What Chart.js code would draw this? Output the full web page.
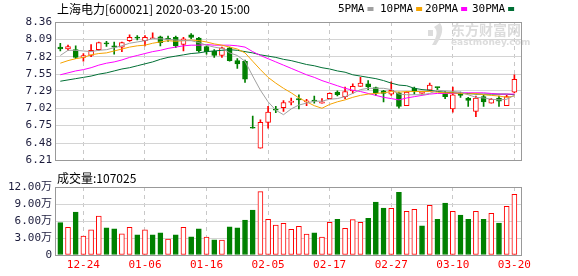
<!DOCTYPE html>
<html>
<head>
<meta charset="utf-8">
<script src="https://cdn.jsdelivr.net/npm/chart.js@4.4.1/dist/chart.umd.min.js"></script>
<style>
  html, body { margin: 0; padding: 0; background: #fff; }
  #wrap { position: relative; width: 578px; height: 276px; }
  #priceChart { position: absolute; left: 0; top: 0; }
  #volChart { position: absolute; left: 0; top: 170px; }
</style>
</head>
<body>
<div id="wrap">
  <canvas id="priceChart" width="578" height="170"></canvas>
  <canvas id="volChart" width="578" height="106"></canvas>
</div>
<script>
// stock info
const stockName = '上海电力';
const stockCode = '600021';
const stamp = '2020-03-20 15:00';

const dates = ['12-19','12-20','12-23','12-24','12-25','12-26','12-27','12-30','12-31','01-02',
  '01-03','01-06','01-07','01-08','01-09','01-10','01-13','01-14','01-15','01-16',
  '01-17','01-20','01-21','01-22','01-23','02-03','02-04','02-05','02-06','02-07',
  '02-10','02-11','02-12','02-13','02-14','02-17','02-18','02-19','02-20','02-21',
  '02-24','02-25','02-26','02-27','02-28','03-02','03-03','03-04','03-05','03-06',
  '03-09','03-10','03-11','03-12','03-13','03-16','03-17','03-18','03-19','03-20'];

const openP = [7.97,7.94,7.93,7.81,7.84,7.93,8.03,7.99,7.97,8.07,
  8.12,8.07,8.10,8.13,8.10,8.12,8.01,8.16,8.11,7.98,
  7.91,7.84,7.96,7.76,7.75,6.72,6.40,6.80,7.00,7.03,
  7.11,7.17,7.12,7.14,7.10,7.17,7.27,7.20,7.29,7.36,
  7.40,7.34,7.29,7.24,7.26,7.06,7.33,7.25,7.30,7.35,
  7.26,7.01,7.26,7.18,6.97,7.20,7.10,7.18,7.06,7.27];
const highP = [8.03,8.00,7.99,7.87,8.01,8.05,8.06,8.05,8.05,8.16,
  8.15,8.15,8.19,8.14,8.14,8.14,8.12,8.18,8.12,7.99,
  7.93,7.97,7.97,7.79,7.77,6.90,6.84,7.05,7.05,7.14,
  7.18,7.23,7.16,7.21,7.17,7.26,7.29,7.35,7.40,7.50,
  7.45,7.35,7.30,7.43,7.27,7.28,7.35,7.28,7.41,7.35,
  7.28,7.35,7.27,7.19,7.21,7.22,7.17,7.21,7.22,7.54];
const lowP = [7.91,7.92,7.79,7.75,7.82,7.92,7.98,7.86,7.90,8.06,
  8.08,7.99,8.10,7.99,8.06,7.96,7.91,8.10,7.89,7.86,
  7.81,7.81,7.75,7.64,7.42,6.71,6.40,6.71,6.95,6.97,
  7.07,7.01,7.06,7.10,7.10,7.17,7.21,7.17,7.25,7.36,
  7.31,7.22,7.12,7.22,7.02,7.06,7.24,7.24,7.29,7.31,
  7.17,6.96,7.19,7.05,6.89,7.05,7.10,7.05,7.06,7.26];
const closeP = [7.94,7.98,7.81,7.84,7.92,8.04,8.02,7.97,8.04,8.12,
  8.11,8.12,8.11,8.04,8.09,7.99,8.10,8.12,7.91,7.90,
  7.84,7.96,7.76,7.71,7.47,6.71,6.80,6.96,6.99,7.11,
  7.13,7.15,7.13,7.13,7.12,7.25,7.23,7.28,7.36,7.41,
  7.35,7.26,7.25,7.30,7.05,7.27,7.28,7.26,7.38,7.34,
  7.20,7.23,7.22,7.14,7.18,7.12,7.16,7.13,7.20,7.47];

const ma5 = [7.84,7.92,7.92,7.91,7.90,7.92,7.93,7.96,7.99,8.03,
  8.05,8.07,8.10,8.10,8.09,8.08,8.07,8.07,8.04,8.00,
  7.97,7.95,7.88,7.84,7.75,7.52,7.30,7.12,6.99,6.92,
  7.01,7.07,7.10,7.13,7.13,7.16,7.17,7.20,7.25,7.31,
  7.33,7.33,7.33,7.31,7.24,7.23,7.23,7.23,7.25,7.30,
  7.29,7.28,7.27,7.23,7.19,7.18,7.16,7.15,7.16,7.22];
const ma10 = [7.72,7.76,7.79,7.81,7.85,7.87,7.88,7.91,7.94,7.97,
  7.99,8.00,8.03,8.05,8.07,8.06,8.07,8.08,8.07,8.05,
  8.02,8.00,7.97,7.94,7.88,7.75,7.62,7.50,7.41,7.33,
  7.26,7.18,7.12,7.06,7.02,7.08,7.12,7.15,7.19,7.22,
  7.24,7.25,7.26,7.28,7.27,7.28,7.28,7.28,7.28,7.27,
  7.26,7.26,7.25,7.24,7.25,7.23,7.22,7.21,7.19,7.21];
const ma20 = [7.54,7.57,7.60,7.62,7.65,7.69,7.72,7.74,7.77,7.81,
  7.84,7.87,7.90,7.92,7.95,7.97,7.99,8.00,8.00,8.01,
  8.00,8.00,8.00,7.99,7.97,7.90,7.84,7.79,7.74,7.69,
  7.64,7.59,7.54,7.50,7.45,7.41,7.37,7.33,7.30,7.28,
  7.25,7.22,7.19,7.17,7.15,7.18,7.20,7.22,7.24,7.25,
  7.25,7.25,7.26,7.26,7.26,7.26,7.25,7.24,7.24,7.24];
const ma30 = [7.44,7.46,7.48,7.50,7.52,7.55,7.57,7.60,7.63,7.65,
  7.68,7.71,7.74,7.78,7.81,7.83,7.85,7.87,7.88,7.90,
  7.91,7.92,7.93,7.92,7.90,7.88,7.85,7.83,7.81,7.78,
  7.76,7.73,7.70,7.68,7.65,7.63,7.60,7.58,7.54,7.52,
  7.50,7.48,7.45,7.41,7.38,7.37,7.33,7.31,7.30,7.28,
  7.27,7.26,7.25,7.25,7.24,7.24,7.24,7.24,7.24,7.23];

// volume in shares (hand), up = 1 means red bar
const volume = [57000,49000,75700,33200,44300,68700,47800,46000,37300,49000,
  35500,44300,35500,39000,28000,35500,49000,32000,46000,31500,
  26800,26200,49500,47800,61700,79200,111900,63000,53000,56000,
  45500,50700,36700,39000,31500,57700,63000,47200,62300,57700,
  64700,93200,82700,82200,110700,77000,80500,51300,87500,63000,
  91500,77000,70500,63000,77000,63000,73500,56500,85700,107025];
const volUp = [0,1,0,1,1,1,0,0,1,1, 0,1,0,0,1,0,1,0,0,1,
  0,1,0,0,0,0,1,1,1,1, 1,1,1,0,1,1,0,1,1,1,
  0,0,0,1,0,1,1,0,1,0, 0,1,0,0,1,0,1,0,1,1];

const priceTicks = ['6.21','6.48','6.75','7.02','7.29','7.55','7.82','8.09','8.36'];
const volTicks = ['0','3.00万','6.00万','9.00万','12.00万'];
const tickDates = ['12-24','01-06','01-16','02-05','02-17','02-27','03-10','03-20'];

const RED = '#ff0000';
const GREEN = '#008000';
const tickFont = '"DejaVu Sans Mono", "Noto Sans CJK SC"';
const textFont = '"Noto Sans CJK SC"';

const isUp = closeP.map((c, i) => c >= openP[i]);

function xAxis(showLabels) {
  return {
    type: 'linear', min: -0.69, max: 59.99, offset: false,
    afterBuildTicks: s => { s.ticks = tickDates.map(d => ({ value: dates.indexOf(d) })); },
    afterFit: s => { s.height = showLabels ? 21 : 0; },
    grid: { color: '#c8c8c8', drawTicks: false, offset: false },
    border: { display: false, dash: [4, 4] },
    ticks: {
      display: showLabels, padding: 4, color: RED, maxRotation: 0, autoSkip: false,
      font: { family: tickFont, size: 11 },
      callback: v => dates[v]
    }
  };
}

const framePlugin = {
  id: 'frame',
  afterDraw(chart) {
    const a = chart.chartArea, c = chart.ctx;
    c.save();
    c.strokeStyle = '#999999';
    c.lineWidth = 1;
    c.strokeRect(Math.round(a.left) + 0.5, Math.round(a.top) + 0.5,
      Math.round(a.right - a.left) - 1, Math.round(a.bottom - a.top));
    c.restore();
  }
};

const headerPlugin = {
  id: 'header',
  beforeDatasetsDraw(chart) {
    const c = chart.ctx;
    c.save();
    // watermark
    c.fillStyle = '#dcdcdc';
    c.beginPath();
    c.moveTo(440, 23); c.quadraticCurveTo(446, 30, 436, 45); c.lineTo(432, 45);
    c.quadraticCurveTo(440, 32, 434, 27); c.closePath(); c.fill();
    c.fillRect(428, 30, 5, 6);
    c.font = 'bold 14px ' + textFont;
    c.textBaseline = 'middle';
    c.fillText('东方财富网', 451, 30);
    c.font = 'bold 9px "DejaVu Sans"';
    c.fillText('eastmoney.com', 451, 43);
    c.restore();
  },
  afterDraw(chart) {
    const c = chart.ctx;
    c.save();
    c.textBaseline = 'middle';
    c.fillStyle = '#000';
    c.font = '12px ' + textFont;
    c.fillText(stockName + '[' + stockCode + '] ' + stamp, 57, 9);
    // legend for moving averages
    const lx = [338, 380, 425, 472];
    c.font = '11px ' + tickFont;
    chart.data.datasets.filter(d => d.type === 'line').forEach((d, k) => {
      c.fillStyle = '#000';
      c.fillText(d.label, lx[k], 9);
      const w = c.measureText(d.label).width;
      c.fillStyle = d.borderColor;
      c.fillRect(lx[k] + w + 3, 7, 6, 4);
    });
    c.restore();
  }
};

const volHeaderPlugin = {
  id: 'volHeader',
  afterDraw(chart) {
    const c = chart.ctx;
    c.save();
    c.textBaseline = 'middle';
    c.fillStyle = '#000';
    c.font = '12px ' + textFont;
    c.fillText('成交量:' + volume[volume.length - 1], 57, 8);
    c.restore();
  }
};

const lineDs = (label, arr, color, order) => ({
  type: 'line', label: label, data: arr.map((v, i) => ({ x: i, y: v })),
  borderColor: color, borderWidth: 1, pointRadius: 0, tension: 0, order: order
});

new Chart(document.getElementById('priceChart'), {
  type: 'bar',
  data: {
    datasets: [
      lineDs('5PMA', ma5, '#a0a0a0', 0),
      lineDs('10PMA', ma10, '#f5a300', 1),
      lineDs('20PMA', ma20, '#ff00ff', 2),
      lineDs('30PMA', ma30, '#006f35', 3),
      {
        label: 'body',
        data: openP.map((o, i) => ({ x: i, y: [Math.min(o, closeP[i]), Math.max(o, closeP[i])] })),
        backgroundColor: openP.map((o, i) => isUp[i] ? '#ffffff' : GREEN),
        borderColor: openP.map((o, i) => isUp[i] ? RED : GREEN),
        borderWidth: 1, borderSkipped: false, barThickness: 5, minBarLength: 1,
        grouped: false, order: 4
      },
      {
        label: 'wick',
        data: highP.map((h, i) => ({ x: i, y: [lowP[i], h] })),
        backgroundColor: highP.map((h, i) => isUp[i] ? RED : GREEN),
        barThickness: 1, grouped: false, order: 5
      }
    ]
  },
  options: {
    responsive: false,
    animation: false,
    layout: { padding: { left: 0, right: 56, top: 22, bottom: 5 } },
    plugins: { legend: { display: false }, tooltip: { enabled: false } },
    scales: {
      x: xAxis(false),
      y: {
        min: 6.21, max: 8.36,
        afterBuildTicks: s => { s.ticks = priceTicks.map(t => ({ value: parseFloat(t) })); },
        afterFit: s => { s.width = 55; },
        grid: { color: '#d4d4d4', drawTicks: false },
        border: { display: false },
        ticks: {
          padding: 3, color: '#1c1c3c', font: { family: tickFont, size: 11 },
          callback: (v, i) => priceTicks[i]
        }
      }
    }
  },
  plugins: [headerPlugin, framePlugin]
});

new Chart(document.getElementById('volChart'), {
  type: 'bar',
  data: {
    datasets: [{
      label: 'vol',
      data: volume.map((v, i) => ({ x: i, y: v })),
      backgroundColor: volUp.map(u => u ? '#ffffff' : GREEN),
      borderColor: volUp.map(u => u ? RED : GREEN),
      borderWidth: 1, borderSkipped: false, barThickness: 5
    }]
  },
  options: {
    responsive: false,
    animation: false,
    layout: { padding: { left: 0, right: 56, top: 17, bottom: 0 } },
    plugins: { legend: { display: false }, tooltip: { enabled: false } },
    scales: {
      x: xAxis(true),
      y: {
        min: 0, max: 120000,
        afterBuildTicks: s => { s.ticks = volTicks.map((t, i) => ({ value: i * 30000 })); },
        afterFit: s => { s.width = 55; },
        grid: { color: '#d4d4d4', drawTicks: false },
        border: { display: false },
        ticks: {
          padding: 3, color: '#1c1c3c', font: { family: tickFont, size: 11 },
          callback: (v, i) => volTicks[i]
        }
      }
    }
  },
  plugins: [volHeaderPlugin, framePlugin]
});
</script>
</body>
</html>
